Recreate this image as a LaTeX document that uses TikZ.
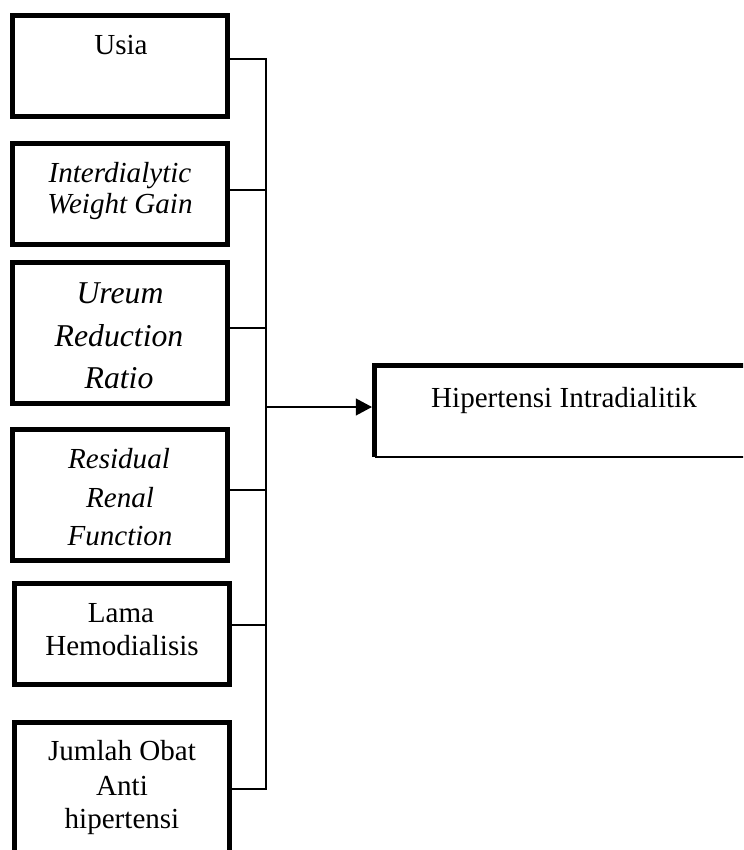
\documentclass[tikz,border=0pt]{standalone}
\usepackage{fontspec}
\setmainfont{Liberation Serif}
\usetikzlibrary{arrows.meta}

\tikzset{
  box/.style={draw=black, line width=3.75pt, inner sep=0pt, outer sep=0pt, fill=none},
  wire/.style={draw=black, line width=1.3pt},
  feed/.style={wire, -{Triangle[length=12pt,width=12.5pt]}},
  txt/.style={font=\fontsize{21.8}{26}\selectfont, inner sep=0pt, anchor=base},
  itxt/.style={txt, font=\fontsize{21.8}{26}\selectfont\itshape},
  bigitxt/.style={txt, font=\fontsize{23.8}{28}\selectfont\itshape},
}

\begin{document}
\begin{tikzpicture}[x=0.75pt, y=-0.75pt]
  \useasboundingbox (0,0) rectangle (743,850);
  \clip (0,0) rectangle (743,850);

  % factor boxes
  \node[box, minimum width=161.25pt, minimum height=75.75pt]  (usia)   at (120,66)     {};
  \node[box, minimum width=161.25pt, minimum height=75.75pt]  (iwg)    at (120,194)    {};
  \node[box, minimum width=161.25pt, minimum height=105.75pt] (urr)    at (120,333)    {};
  \node[box, minimum width=161.25pt, minimum height=98.25pt]  (rrf)    at (120,495)    {};
  \node[box, minimum width=161.25pt, minimum height=75.75pt]  (lama)   at (122,634)    {};
  \node[box, minimum width=161.25pt, minimum height=110.625pt] (jumlah) at (122,796.25) {};

  % outcome box: heavy left and top edges, light bottom edge
  \node[inner sep=0pt, outer sep=0pt, minimum width=283.875pt, minimum height=68.625pt]
    (hit) at (563.75,411.25) {};
  \draw[line width=3.75pt] (hit.south west) -- (hit.north west) -- (hit.north east);
  \draw[line width=1.1pt] (hit.south west) -- (hit.south east);

  % labels
  \node[txt]  (tusia) at (121,54) {Usia};
  \node[itxt] (tiwg1) at (120,182) {Interdialytic};
  \node[itxt] (tiwg2) at (120,213) {Weight Gain};
  \node[bigitxt] (turr1) at (120,303) {Ureum};
  \node[bigitxt] (turr2) at (119,346) {Reduction};
  \node[bigitxt] (turr3) at (119,388) {Ratio};
  \node[itxt] (trrf1) at (119,468) {Residual};
  \node[itxt] (trrf2) at (120,507) {Renal};
  \node[itxt] (trrf3) at (120,545) {Function};
  \node[txt]  (tlama1) at (121,622) {Lama};
  \node[txt]  (tlama2) at (122,655) {Hemodialisis};
  \node[txt]  (tjum1) at (122,760) {Jumlah Obat};
  \node[txt]  (tjum2) at (122,795) {Anti};
  \node[txt]  (tjum3) at (122,828) {hipertensi};
  \node[txt]  (thit)  at (564,407) {Hipertensi Intradialitik};

  % bus junctions
  \coordinate (j1) at (266,59);
  \coordinate (j2) at (266,190);
  \coordinate (j3) at (266,328);
  \coordinate (j4) at (266,490);
  \coordinate (j5) at (266,625);
  \coordinate (j6) at (266,789);
  \coordinate (ja) at (266,407);

  % connectors
  \draw[wire] (usia.east |- j1) -- (j1);
  \draw[wire] (iwg.east |- j2) -- (j2);
  \draw[wire] (urr.east |- j3) -- (j3);
  \draw[wire] (rrf.east |- j4) -- (j4);
  \draw[wire] (lama.east |- j5) -- (j5);
  \draw[wire] (jumlah.east |- j6) -- (j6);
  \draw[wire, line cap=rect] (j1) -- (j6);
  \draw[feed, shorten >=1.9pt] (ja) -- (hit.west |- ja);
\end{tikzpicture}
\end{document}
